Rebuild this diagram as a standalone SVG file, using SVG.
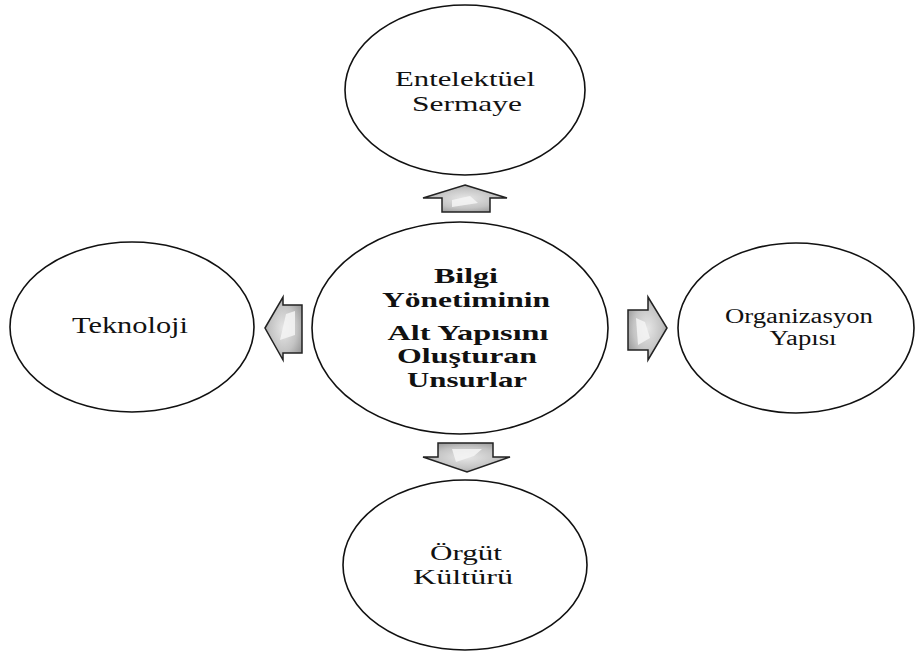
<svg xmlns="http://www.w3.org/2000/svg" width="916" height="653" viewBox="0 0 916 653">
  <style>
    .node { fill: #ffffff; stroke: #111111; stroke-width: 1.6; }
    .lbl { font-family: "Liberation Serif", "Times New Roman", serif; fill: #111111; text-anchor: middle; }
    .reg { font-size: 24px; }
    .two { font-size: 22px; }
    .sm { font-size: 20px; }
    .bold { font-size: 22px; font-weight: bold; }
    .arrow { fill: url(#arrowFill); stroke: #222222; stroke-width: 1.5; stroke-linejoin: miter; }
    .shine { fill: #f4f4f4; opacity: 0.85; }
  </style>
  <defs>
    <radialGradient id="arrowFill" cx="50%" cy="50%" r="60%">
      <stop offset="0" stop-color="#e6e6e6"/>
      <stop offset="0.6" stop-color="#c4c4c4"/>
      <stop offset="1" stop-color="#979797"/>
    </radialGradient>
  </defs>

  <rect width="916" height="653" fill="#ffffff"/>

  <!-- block arrows from the centre outwards -->
  <g id="connectors">
    <polygon class="arrow" points="465,185 507,198 490,198 490,212 442,212 442,198 423,198"/>
    <polygon class="shine" points="452,200 470,196 478,203 452,207"/>
    <polygon class="arrow" points="438,443 493,443 493,457 510,457 467,472 423,457 438,457"/>
    <polygon class="shine" points="452,449 482,449 474,456 456,462"/>
    <polygon class="arrow" points="265,328 283,297 283,305 302,305 302,353 283,353 283,360"/>
    <polygon class="shine" points="286,314 295,311 295,335 280,340"/>
    <polygon class="arrow" points="628,310 648,310 648,297 667,328 648,360 648,350 628,350"/>
    <polygon class="shine" points="636,318 645,322 650,338 638,345"/>
  </g>

  <g id="center">
    <ellipse class="node" cx="460" cy="328" rx="148" ry="106"/>
    <text class="lbl bold" x="466" y="283" textLength="64" lengthAdjust="spacingAndGlyphs">Bilgi</text>
    <text class="lbl bold" x="466" y="307" textLength="168" lengthAdjust="spacingAndGlyphs">Yönetiminin</text>
    <text class="lbl bold" x="468" y="340" textLength="161" lengthAdjust="spacingAndGlyphs">Alt Yapısını</text>
    <text class="lbl bold" x="467" y="363" textLength="140" lengthAdjust="spacingAndGlyphs">Oluşturan</text>
    <text class="lbl bold" x="467" y="387" textLength="120" lengthAdjust="spacingAndGlyphs">Unsurlar</text>
  </g>

  <g id="entelektuel-sermaye">
    <ellipse class="node" cx="465" cy="90" rx="120" ry="85"/>
    <text class="lbl two" x="465" y="86" textLength="140" lengthAdjust="spacingAndGlyphs">Entelektüel</text>
    <text class="lbl two" x="467" y="111" textLength="110" lengthAdjust="spacingAndGlyphs">Sermaye</text>
  </g>

  <g id="teknoloji">
    <ellipse class="node" cx="132" cy="327" rx="122" ry="85"/>
    <text class="lbl reg" x="130" y="333" textLength="116" lengthAdjust="spacingAndGlyphs">Teknoloji</text>
  </g>

  <g id="organizasyon-yapisi">
    <ellipse class="node" cx="796" cy="328" rx="118" ry="85"/>
    <text class="lbl sm" x="799" y="323" textLength="148" lengthAdjust="spacingAndGlyphs">Organizasyon</text>
    <text class="lbl sm" x="803" y="345" textLength="67" lengthAdjust="spacingAndGlyphs">Yapısı</text>
  </g>

  <g id="orgut-kulturu">
    <ellipse class="node" cx="465" cy="565" rx="122" ry="85"/>
    <text class="lbl two" x="466" y="560" textLength="72" lengthAdjust="spacingAndGlyphs">Örgüt</text>
    <text class="lbl two" x="463" y="584" textLength="100" lengthAdjust="spacingAndGlyphs">Kültürü</text>
  </g>
</svg>
